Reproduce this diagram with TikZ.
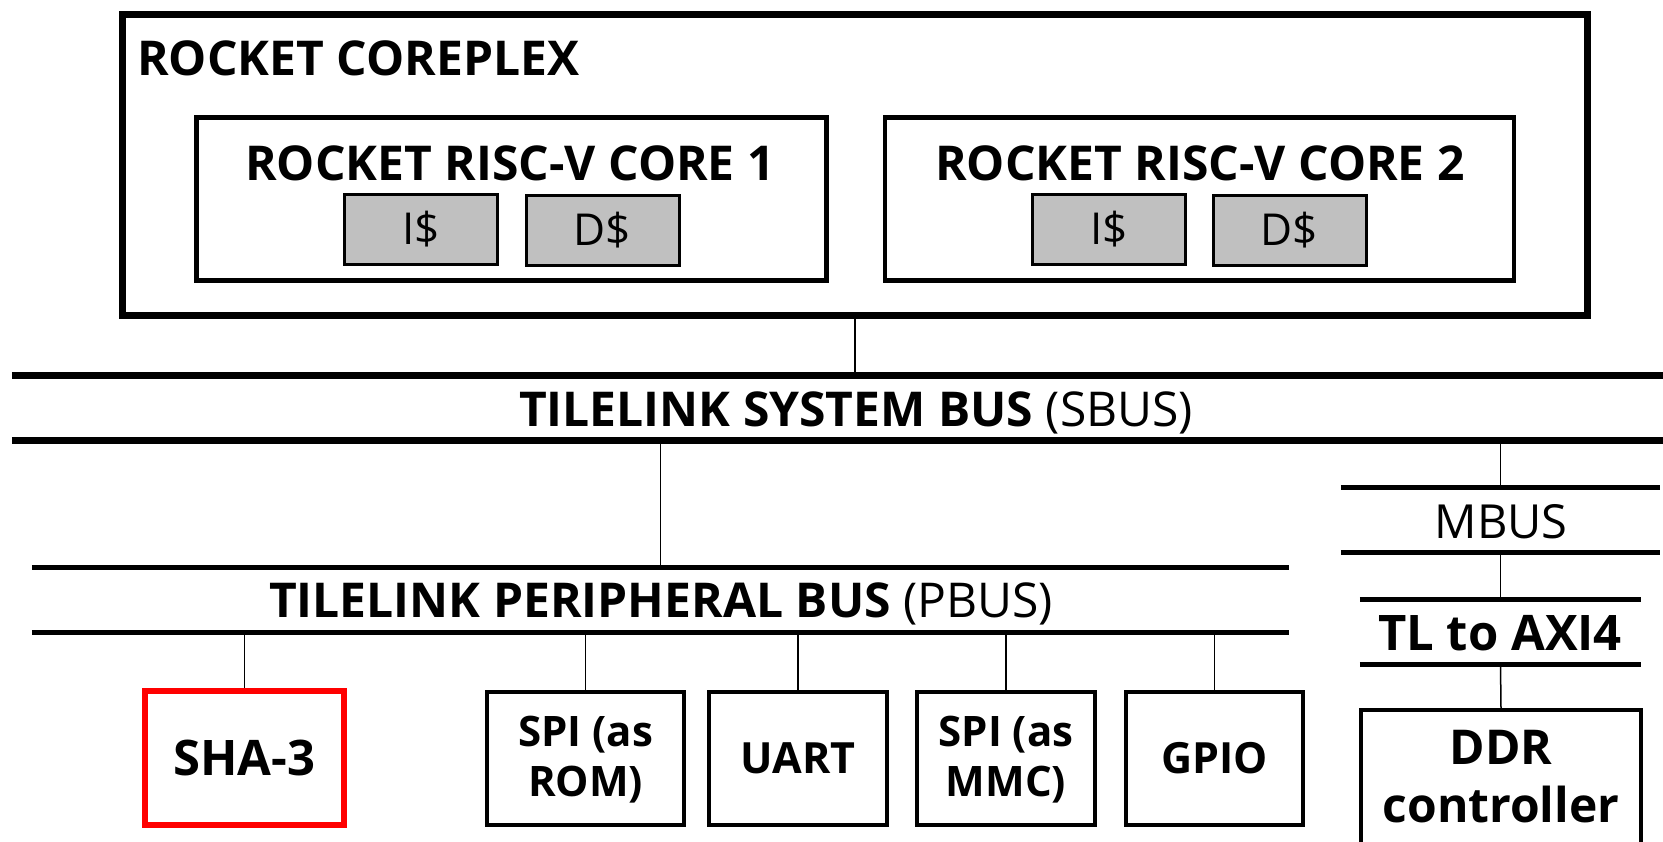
\documentclass[tikz,border=0pt]{standalone}
\usepackage{fontspec}
\setmainfont{Open Sans}
\newcommand{\fs}[2]{\fontsize{#1}{#2}\selectfont}
\begin{document}
\begin{tikzpicture}[x=1pt,y=-1pt,
  box/.style={draw=black, rectangle, inner sep=0pt, fill=white},
  cache/.style={draw=black, line width=3pt, fill=cachegray, rectangle, inner sep=0pt, minimum width=153pt, minimum height=70pt, font=\fs{44}{44}},
  periph/.style={box, line width=4pt, minimum height=133pt, align=center, font=\bfseries\fs{43}{43}},
  ptext/.style={inner sep=0pt, align=center, anchor=north, font=\bfseries\fs{42}{50}},
  busarea/.style={rectangle, inner sep=0pt},
  wire/.style={line width=1.5pt},
  title/.style={inner sep=0pt, font=\bfseries\fs{48}{48}}
]
\definecolor{cachegray}{HTML}{C0C0C0}
\definecolor{shared}{HTML}{FF0000}
\useasboundingbox (0,0) rectangle (1663,841);

% coreplex
\node[box, line width=7pt, minimum width=1465pt, minimum height=301pt] (coreplex) at (855,165) {};
\node[title, anchor=base west] (cptitle) at (137,75) {ROCKET COREPLEX};

\node[box, line width=4.5pt, minimum width=630pt, minimum height=163pt] (core1) at (511.5,199) {};
\node[title, anchor=base] (c1title) at (510,180) {ROCKET RISC-V CORE 1};
\node[cache] (i1) at (421,229.5) {I\$};
\node[cache] (d1) at (602.5,230) {D\$};

\node[box, line width=4.5pt, minimum width=629pt, minimum height=163pt] (core2) at (1199.5,199) {};
\node[title, anchor=base] (c2title) at (1200,180) {ROCKET RISC-V CORE 2};
\node[cache] (i2) at (1109,229.5) {I\$};
\node[cache] (d2) at (1289.5,230) {D\$};

% system bus
\node[busarea, minimum width=1651pt, minimum height=64pt] (sbus) at (837.5,408) {};
\draw[line width=7pt] (sbus.north west) -- (sbus.north east);
\draw[line width=7pt] (sbus.south west) -- (sbus.south east);
\node[title, anchor=base] (sbustext) at (856,426) {TILELINK SYSTEM BUS \mdseries(SBUS)};

% peripheral bus
\node[busarea, minimum width=1257pt, minimum height=64pt] (pbus) at (660.5,600) {};
\draw[line width=5pt] (pbus.north west) -- (pbus.north east);
\draw[line width=5pt] (pbus.south west) -- (pbus.south east);
\node[title, anchor=base] (pbustext) at (661,617) {TILELINK PERIPHERAL BUS \mdseries(PBUS)};

% memory bus
\node[busarea, minimum width=319pt, minimum height=64pt] (mbus) at (1500.5,520) {};
\draw[line width=5pt] (mbus.north west) -- (mbus.north east);
\draw[line width=5pt] (mbus.south west) -- (mbus.south east);
\node[inner sep=0pt, font=\fs{47}{47}, anchor=base] (mbustext) at (1501,538) {MBUS};

% TL to AXI4
\node[busarea, minimum width=281pt, minimum height=64pt] (tl) at (1500.5,632) {};
\draw[line width=5pt] (tl.north west) -- (tl.north east);
\draw[line width=5pt] (tl.south west) -- (tl.south east);
\node[title, font=\bfseries\fs{49}{49}, anchor=base] (tltext) at (1500,650) {TL to AXI4};

% peripherals
\node[box, draw=shared, line width=6.5pt, minimum width=199pt, minimum height=134pt, font=\bfseries\fs{49}{49}] (sha) at (244.5,758) {SHA-3};
\node[periph, minimum width=197pt] (spirom) at (585.5,758.5) {};
\node[ptext] (spiromtext) at (585.5,716) {SPI (as\\ROM)};
\node[periph, minimum width=178pt] (uart) at (798,758.5) {UART};
\node[periph, minimum width=178pt] (spimmc) at (1006,758.5) {};
\node[ptext] (spimmctext) at (1006,716) {SPI (as\\MMC)};
\node[periph, minimum width=177pt] (gpio) at (1214.5,758.5) {GPIO};
\node[box, line width=4pt, minimum width=280pt, minimum height=160pt] (ddr) at (1501,790) {};
\node[ptext, font=\bfseries\fs{48}{58}] (ddrtext) at (1501,730) {DDR\\controller};

% connectors
\draw[wire] (coreplex.south) -- (coreplex.south |- sbus.north);
\draw[wire] (pbus.north |- sbus.south) -- (pbus.north);
\draw[wire] (mbus.north |- sbus.south) -- (mbus.north);
\draw[wire] (mbus.south) -- (tl.north);
\draw[wire] (tl.south) -- (ddr.north);
\draw[wire] (sha.north |- pbus.south) -- (sha.north);
\draw[wire] (spirom.north |- pbus.south) -- (spirom.north);
\draw[wire] (uart.north |- pbus.south) -- (uart.north);
\draw[wire] (spimmc.north |- pbus.south) -- (spimmc.north);
\draw[wire] (gpio.north |- pbus.south) -- (gpio.north);
\end{tikzpicture}
\end{document}
